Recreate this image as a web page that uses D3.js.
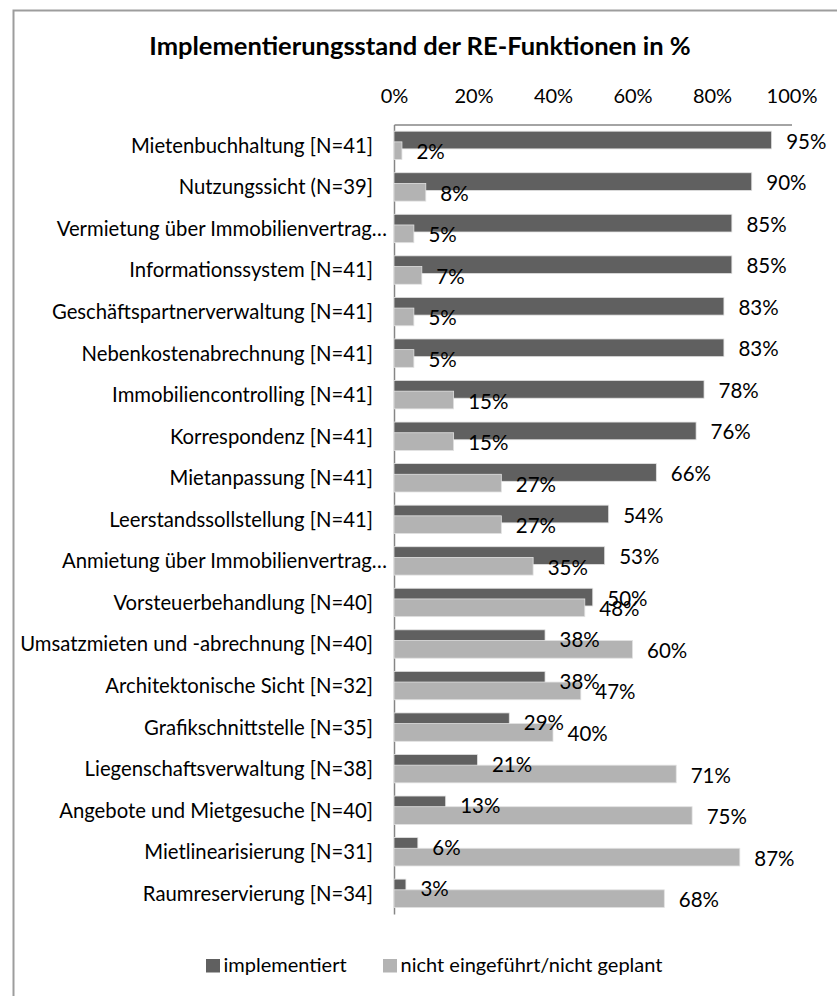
<!DOCTYPE html>
<html>
<head>
<meta charset="utf-8">
<script src="https://cdn.jsdelivr.net/npm/d3@7/dist/d3.min.js"></script>
<style>
  body { margin: 0; background: #fff; }
  text { font-family: Lato, "Open Sans", sans-serif; fill: #000; }
</style>
</head>
<body>
<script>
var width = 837,
    height = 996;

/* ============================ DATA ============================ */
var categories = [
  "Mietenbuchhaltung [N=41]",
  "Nutzungssicht (N=39]",
  "Vermietung über Immobilienvertrag…",
  "Informationssystem [N=41]",
  "Geschäftspartnerverwaltung [N=41]",
  "Nebenkostenabrechnung [N=41]",
  "Immobiliencontrolling [N=41]",
  "Korrespondenz [N=41]",
  "Mietanpassung [N=41]",
  "Leerstandssollstellung [N=41]",
  "Anmietung über Immobilienvertrag…",
  "Vorsteuerbehandlung [N=40]",
  "Umsatzmieten und -abrechnung [N=40]",
  "Architektonische Sicht [N=32]",
  "Grafikschnittstelle [N=35]",
  "Liegenschaftsverwaltung [N=38]",
  "Angebote und Mietgesuche [N=40]",
  "Mietlinearisierung [N=31]",
  "Raumreservierung [N=34]"
];
var implementiert = [95, 90, 85, 85, 83, 83, 78, 76, 66, 54, 53, 50, 38, 38, 29, 21, 13, 6, 3];
var nichtGeplant  = [2, 8, 5, 7, 5, 5, 15, 15, 27, 27, 35, 48, 60, 47, 40, 71, 75, 87, 68];
var tickValues = [0, 20, 40, 60, 80, 100];
var seriesNames = ["implementiert", "nicht eingeführt/nicht geplant"];
var seriesColors = ["#606060", "#b3b3b3"];
var title = "Implementierungsstand der RE-Funktionen in %";

/* ============================ SCALES ============================ */
var x = d3.scaleLinear().domain([0, 100]).range([394, 791.5]);
var y = d3.scaleBand().domain(categories).range([124.5, 914]);

var svg = d3.select('body').append('svg')
    .attr('width', width)
    .attr('height', height);

// chart frame (runs off the right and bottom edge)
svg.append('rect')
    .attr('x', 13.5).attr('y', 10.5)
    .attr('width', 900).attr('height', 1100)
    .attr('fill', 'none')
    .attr('stroke', '#9d9d9d')
    .attr('stroke-width', 2);

svg.append('text')
    .attr('x', 420)
    .attr('y', 55)
    .attr('text-anchor', 'middle')
    .style('font-size', '25.5px')
    .style('font-weight', 'bold')
    .text(title);

/* ============================ AXES ============================ */
var xAxis = svg.append('g')
    .attr('transform', 'translate(0,124.5)')
    .call(d3.axisTop(x).tickValues(tickValues).tickSize(0).tickPadding(21.5)
      .tickFormat(function(d) { return d + '%'; }));
xAxis.select('.domain').attr('stroke', '#868686').attr('stroke-width', 1.5);
xAxis.selectAll('text').style('font-size', '20px').attr('fill', '#000').attr('font-family', null);

var yAxis = svg.append('g')
    .attr('transform', 'translate(394,0)')
    .call(d3.axisLeft(y).tickSize(0).tickPadding(21));
yAxis.select('.domain').attr('stroke', '#868686').attr('stroke-width', 1.5);
yAxis.selectAll('text')
    .style('font-size', '20.3px')
    .attr('fill', '#000')
    .attr('font-family', null)
    .attr('dy', '0.37em')
    .attr('x', function(d) { return d.slice(-1) === '…' ? -7 : -21; });

/* ============================ BARS ============================ */
var step = y.step(),
    barH = step * 0.426,
    darkOff = step * 0.161,
    lightOff = step * 0.418;

function drawSeries(values, off, color) {
  svg.append('g').selectAll('rect')
      .data(values)
    .enter().append('rect')
      .attr('x', x(0))
      .attr('y', function(d, i) { return y(categories[i]) + off; })
      .attr('width', function(d) { return x(d) - x(0); })
      .attr('height', barH)
      .attr('fill', color)
      .attr('stroke', '#e2e2e2')
      .attr('stroke-width', 0.8);
}
drawSeries(implementiert, darkOff, seriesColors[0]);
drawSeries(nichtGeplant, lightOff, seriesColors[1]);

function drawLabels(values, off) {
  svg.append('g').selectAll('text')
      .data(values)
    .enter().append('text')
      .attr('x', function(d) { return x(d) + 14.5; })
      .attr('y', function(d, i) { return y(categories[i]) + off + barH / 2 + 8.5; })
      .style('font-size', '20.5px')
      .text(function(d) { return d + '%'; });
}
drawLabels(implementiert, darkOff);
drawLabels(nichtGeplant, lightOff);

/* ============================ LEGEND ============================ */
var legendX = [206, 383];
var legend = svg.append('g').selectAll('g')
    .data(seriesNames)
  .enter().append('g')
    .attr('transform', function(d, i) { return 'translate(' + legendX[i] + ',959)'; });

legend.append('rect')
    .attr('width', 14).attr('height', 13.5)
    .attr('fill', function(d, i) { return seriesColors[i]; });

legend.append('text')
    .attr('x', 17.5)
    .attr('y', 13.3)
    .style('font-size', '20px')
    .text(function(d) { return d; });
</script>
</body>
</html>
